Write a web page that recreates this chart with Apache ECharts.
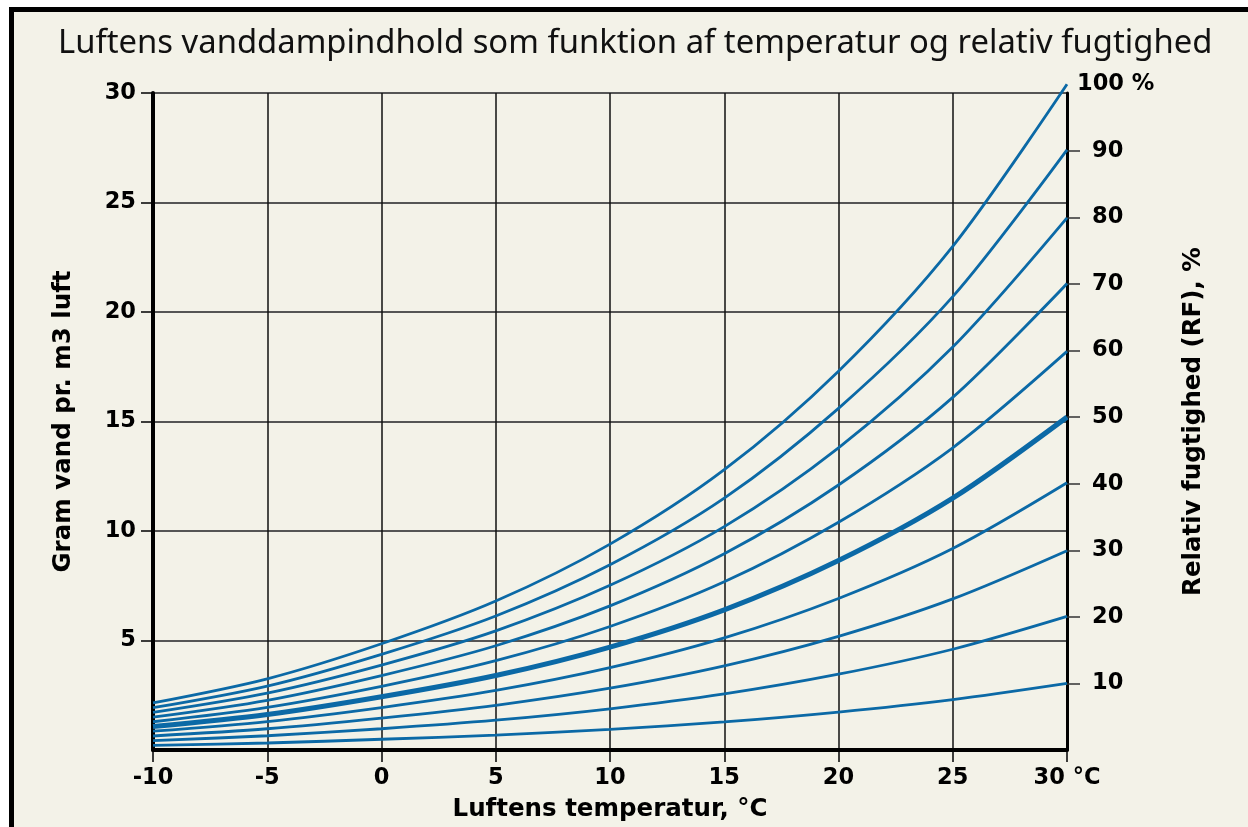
<!DOCTYPE html>
<html>
<head>
<meta charset="utf-8">
<title>Luftens vanddampindhold</title>
<script src="https://cdn.jsdelivr.net/npm/echarts@6/dist/echarts.min.js"></script>
<style>
html, body {
  margin: 0;
  padding: 0;
  background: #ffffff;
  overflow: hidden;
}
.frame {
  position: absolute;
  left: 9px;
  top: 7px;
  width: 1239px;
  height: 820px;
  box-sizing: border-box;
  border-left: 5px solid #000;
  border-top: 5px solid #000;
  background: #f3f2e8;
}
#chart {
  position: absolute;
  left: 0;
  top: 0;
  width: 1248px;
  height: 827px;
}
</style>
</head>
<body>
<div class="frame"></div>
<div id="chart"></div>
<script>
// temperatur, °C
const temperatures = [-10, -5, 0, 5, 10, 15, 20, 25, 30]

// gram vand pr. m3 luft, aflæst for hver RF-kurve
const rf100 = [2.15, 3.25, 4.85, 6.8, 9.4, 12.8, 17.3, 23.0, 30.4]
const rf90 = [1.93, 2.92, 4.37, 6.12, 8.46, 11.5, 15.6, 20.7, 27.4]
const rf80 = [1.72, 2.6, 3.88, 5.44, 7.52, 10.2, 13.8, 18.4, 24.3]
const rf70 = [1.5, 2.27, 3.4, 4.76, 6.58, 8.96, 12.1, 16.1, 21.3]
const rf60 = [1.29, 1.95, 2.91, 4.08, 5.64, 7.68, 10.4, 13.8, 18.2]
const rf50 = [1.07, 1.62, 2.43, 3.4, 4.7, 6.4, 8.65, 11.5, 15.2]
const rf40 = [0.86, 1.3, 1.94, 2.72, 3.76, 5.12, 6.92, 9.2, 12.2]
const rf30 = [0.64, 0.97, 1.46, 2.04, 2.82, 3.84, 5.19, 6.9, 9.1]
const rf20 = [0.43, 0.65, 0.97, 1.36, 1.88, 2.56, 3.46, 4.6, 6.1]
const rf10 = [0.21, 0.32, 0.49, 0.68, 0.94, 1.28, 1.73, 2.3, 3.04]

const curves = [
  { name: '100', values: rf100 },
  { name: '90', values: rf90 },
  { name: '80', values: rf80 },
  { name: '70', values: rf70 },
  { name: '60', values: rf60 },
  { name: '50', values: rf50 },
  { name: '40', values: rf40 },
  { name: '30', values: rf30 },
  { name: '20', values: rf20 },
  { name: '10', values: rf10 }
]

const leftTicks = [5, 10, 15, 20, 25, 30]
const rightTicks = [10, 20, 30, 40, 50, 60, 70, 80, 90]

const blue = '#0b69a6'
const labelFont = {
  fontFamily: 'DejaVu Sans',
  fontWeight: 'bold',
  fontSize: 22.5,
  color: '#000'
}
const nameFont = {
  fontFamily: 'DejaVu Sans',
  fontWeight: 'bold',
  fontSize: 24.5,
  color: '#000'
}

const myChart = echarts.init(document.getElementById('chart'))

const option = {
  animation: false,
  backgroundColor: 'transparent',
  title: {
    text: 'Luftens vanddampindhold som funktion af temperatur og relativ fugtighed',
    left: 53,
    top: 22,
    textStyle: {
      fontFamily: 'Noto Sans',
      fontWeight: 'normal',
      fontSize: 32.8,
      color: '#111'
    }
  },
  grid: {
    left: 153,
    right: 181,
    top: 93,
    bottom: 65
  },
  xAxis: {
    type: 'value',
    min: -10,
    max: 30,
    interval: 5,
    name: 'Luftens temperatur, °C',
    nameLocation: 'middle',
    nameGap: 47,
    nameTextStyle: nameFont,
    axisLine: { show: true, onZero: false, lineStyle: { color: '#000', width: 4 } },
    axisTick: { show: true, length: 12, lineStyle: { color: '#000', width: 1.5 } },
    axisLabel: Object.assign({}, labelFont, {
      margin: 17,
      formatter: function(v) {
        return v === 30 ? '30 °C' : String(v)
      }
    }),
    splitLine: { show: true, lineStyle: { color: '#111', width: 1.5 } }
  },
  yAxis: [
    {
      type: 'value',
      min: 0,
      max: 30,
      interval: 5,
      position: 'left',
      name: 'Gram vand pr. m3 luft',
      nameLocation: 'middle',
      nameGap: 77,
      nameRotate: 90,
      nameTextStyle: nameFont,
      axisLine: { show: true, onZero: false, lineStyle: { color: '#000', width: 4 } },
      axisTick: {
        show: true,
        length: 12,
        customValues: leftTicks,
        lineStyle: { color: '#000', width: 1.5 }
      },
      axisLabel: Object.assign({}, labelFont, {
        margin: 17,
        customValues: leftTicks
      }),
      splitLine: { show: true, lineStyle: { color: '#555', width: 2 } }
    },
    {
      type: 'value',
      min: 0,
      max: 98.7,
      position: 'right',
      name: 'Relativ fugtighed (RF), %',
      nameLocation: 'middle',
      nameGap: 114,
      nameRotate: 90,
      nameTextStyle: nameFont,
      axisLine: { show: true, onZero: false, lineStyle: { color: '#000', width: 3 } },
      axisTick: {
        show: true,
        length: 13,
        customValues: rightTicks,
        lineStyle: { color: '#333', width: 1.5 }
      },
      axisLabel: Object.assign({}, labelFont, {
        margin: 25,
        customValues: rightTicks
      }),
      splitLine: { show: false }
    }
  ],
  series: curves.map(function(c) {
    return {
      name: c.name,
      type: 'line',
      yAxisIndex: 0,
      data: temperatures.map(function(t, i) {
        return [t, c.values[i]]
      }),
      smooth: 0.3,
      symbol: 'none',
      clip: false,
      z: 5,
      lineStyle: {
        color: blue,
        width: c.name === '50' ? 5 : 2.8
      },
      endLabel: {
        show: c.name === '100',
        formatter: '100 %',
        distance: 10,
        fontFamily: 'DejaVu Sans',
        fontWeight: 'bold',
        fontSize: 22.5,
        color: '#000'
      }
    }
  })
}

myChart.setOption(option)
</script>
</body>
</html>
